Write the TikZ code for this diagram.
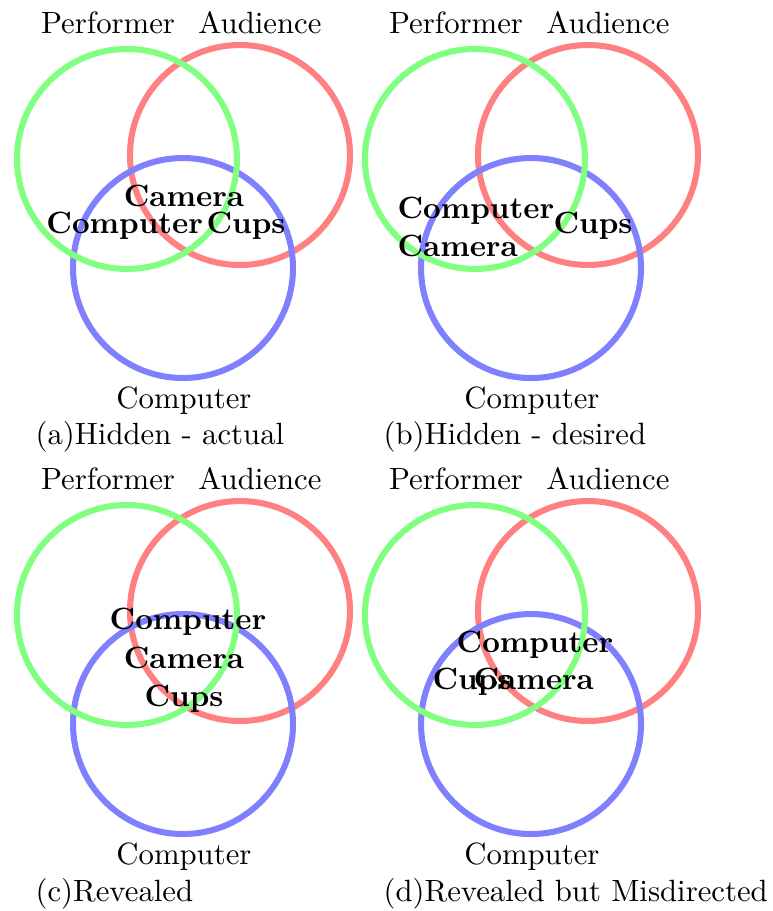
\documentclass[tikz,border=0pt]{standalone}
\usepackage{tikz}
\usetikzlibrary{positioning}
\usepackage{xcolor}
\definecolor{perfSet}{RGB}{128,255,128}
\definecolor{audSet}{RGB}{255,128,128}
\definecolor{compSet}{RGB}{128,128,255}
\tikzset{
    every node/.append style={font=\fontsize{10.15}{12}\selectfont},
    ring/.style={line width=2pt},
    setlbl/.style={inner sep=0pt,anchor=base},
    item/.style={inner sep=0pt,font=\fontsize{10.15}{12}\selectfont\bfseries},
    subcap/.style={inner sep=0pt,anchor=base west}
}

\begin{document}
\begin{tikzpicture}
    \useasboundingbox (0,0) rectangle (8.967,-10.568);

    % (a) hidden, actual
    \begin{scope}
        \draw[ring,audSet]  (2.784,-1.798) circle[radius=1.276];
        \draw[ring,compSet] (2.123,-3.109) circle[radius=1.276];
        \draw[ring,perfSet] (1.473,-1.844) circle[radius=1.276];
        \node[setlbl] (perfA) at (1.253,-0.383) {Performer};
        \node[setlbl] (audA)  at (3.016,-0.383) {Audience};
        \node[setlbl] (compA) at (2.134,-4.733) {Computer};
        \node[subcap] (capA)  at (0.406,-5.162) {(a)Hidden - actual};
        \node[item,anchor=base]      (inCamA)  at (2.134,-2.390) {Camera};
        \node[item,anchor=base east] (inCompA) at (2.362,-2.703) {Computer};
        \node[item,anchor=base west] (inCupsA) at (2.390,-2.703) {Cups};
    \end{scope}

    % (b) hidden, desired
    \begin{scope}[xshift=4.037cm]
        \draw[ring,audSet]  (2.784,-1.798) circle[radius=1.276];
        \draw[ring,compSet] (2.123,-3.109) circle[radius=1.276];
        \draw[ring,perfSet] (1.473,-1.844) circle[radius=1.276];
        \node[setlbl] (perfB) at (1.253,-0.383) {Performer};
        \node[setlbl] (audB)  at (3.016,-0.383) {Audience};
        \node[setlbl] (compB) at (2.134,-4.733) {Computer};
        \node[subcap] (capB)  at (0.406,-5.162) {(b)Hidden - desired};
        \node[item,anchor=base west] (inCompB) at (0.568,-2.529) {Computer};
        \node[item,anchor=base west] (inCamB)  at (0.568,-2.981) {Camera};
        \node[item,anchor=base west] (inCupsB) at (2.378,-2.703) {Cups};
    \end{scope}

    % (c) revealed
    \begin{scope}[yshift=-5.29cm]
        \draw[ring,audSet]  (2.784,-1.798) circle[radius=1.276];
        \draw[ring,compSet] (2.123,-3.109) circle[radius=1.276];
        \draw[ring,perfSet] (1.473,-1.844) circle[radius=1.276];
        \node[setlbl] (perfC) at (1.253,-0.383) {Performer};
        \node[setlbl] (audC)  at (3.016,-0.383) {Audience};
        \node[setlbl] (compC) at (2.134,-4.733) {Computer};
        \node[subcap] (capC)  at (0.406,-5.162) {(c)Revealed};
        \node[item,anchor=base] (inCompC) at (2.181,-2.018) {Computer};
        \node[item,anchor=base] (inCamC)  at (2.134,-2.459) {Camera};
        \node[item,anchor=base] (inCupsC) at (2.134,-2.900) {Cups};
    \end{scope}

    % (d) revealed but misdirected
    \begin{scope}[xshift=4.037cm,yshift=-5.29cm]
        \draw[ring,audSet]  (2.784,-1.798) circle[radius=1.276];
        \draw[ring,compSet] (2.123,-3.109) circle[radius=1.276];
        \draw[ring,perfSet] (1.473,-1.844) circle[radius=1.276];
        \node[setlbl] (perfD) at (1.253,-0.383) {Performer};
        \node[setlbl] (audD)  at (3.016,-0.383) {Audience};
        \node[setlbl] (compD) at (2.134,-4.733) {Computer};
        \node[subcap] (capD)  at (0.406,-5.162) {(d)Revealed but Misdirected};
        \node[item,anchor=base]      (inCompD) at (2.169,-2.274) {Computer};
        \node[item,anchor=base west] (inCupsD) at (0.974,-2.714) {Cups};
        \node[item,anchor=base west] (inCamD)  at (1.450,-2.714) {Camera};
    \end{scope}
\end{tikzpicture}
\end{document}
